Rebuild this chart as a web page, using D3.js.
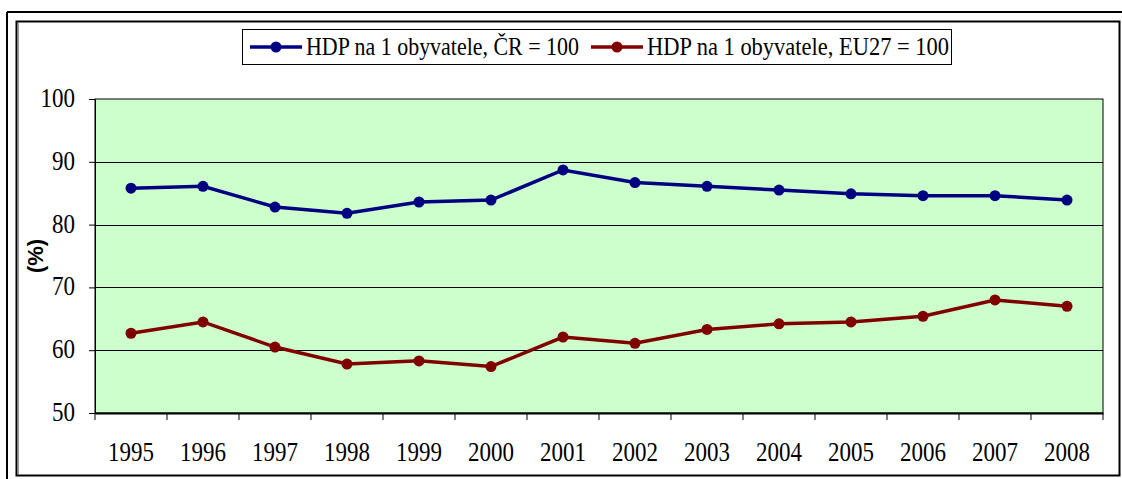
<!DOCTYPE html>
<html>
<head>
<meta charset="utf-8">
<script src="https://cdn.jsdelivr.net/npm/d3@7"></script>
<style>
html,body{margin:0;padding:0;background:#fff;}
svg{display:block;}
</style>
</head>
<body>
<script>
const years = ["1995","1996","1997","1998","1999","2000","2001","2002","2003","2004","2005","2006","2007","2008"];
const seriesCR = [85.8,86.1,82.8,81.8,83.6,83.9,88.7,86.7,86.1,85.5,84.9,84.6,84.6,83.9];
const seriesEU = [62.7,64.5,60.5,57.8,58.3,57.4,62.1,61.1,63.3,64.2,64.5,65.4,68.0,67.0];
const seriesNames = ["HDP na 1 obyvatele, ČR = 100","HDP na 1 obyvatele, EU27 = 100"];
const yTicks = [50,60,70,80,90,100];

const W = 1122, H = 479;
const svg = d3.select("body").append("svg").attr("width", W).attr("height", H);
const serif = '"Liberation Serif","Times New Roman",serif';
const sy = 1.2; // vertical stretch of text as in the original

// outer page frame lines
svg.append("line").attr("x1",7).attr("x2",W).attr("y1",12).attr("y2",12).attr("stroke","#000").attr("stroke-width",2);
svg.append("line").attr("x1",7).attr("x2",7).attr("y1",12).attr("y2",H).attr("stroke","#000").attr("stroke-width",2);
// chart border
svg.append("rect").attr("x",16.5).attr("y",21.5).attr("width",1103).attr("height",454).attr("fill","#fff").attr("stroke","#000").attr("stroke-width",2);
svg.append("line").attr("x1",18.5).attr("x2",18.5).attr("y1",23).attr("y2",474).attr("stroke","#999").attr("stroke-width",1);

const m = {l:95, r:1103, t:99, b:413};
const x = d3.scaleBand().domain(years).range([m.l, m.r]);
const y = d3.scaleLinear().domain([50,100]).range([m.b, m.t]);

// plot background
svg.append("rect").attr("x",m.l).attr("y",m.t).attr("width",m.r-m.l).attr("height",m.b-m.t)
  .attr("fill","#ccffcc").attr("stroke","#000").attr("stroke-width",1);

// gridlines
svg.append("g").selectAll("line").data(yTicks.filter(d=>d>50 && d<100)).join("line")
  .attr("x1",m.l).attr("x2",m.r).attr("y1",d=>Math.round(y(d))+0.5).attr("y2",d=>Math.round(y(d))+0.5)
  .attr("stroke","#000").attr("stroke-width",1);

// y axis
const ya = svg.append("g").attr("transform",`translate(${m.l},0)`)
  .call(d3.axisLeft(y).tickValues(yTicks).tickSize(6).tickPadding(14).tickSizeOuter(0));
ya.attr("font-family",null).attr("font-size",null);
ya.select(".domain").attr("stroke","#000");
ya.selectAll("text").style("font-family",serif).style("font-size","23px").attr("fill","#000")
  .attr("dy",null).attr("y",7.5/sy).attr("transform",`scale(1,${sy})`);

// x axis with ticks at category boundaries
const xa = svg.append("g").attr("transform",`translate(0,${m.b})`)
  .call(d3.axisBottom(x).tickSize(0).tickPadding(30).tickSizeOuter(0));
xa.attr("font-family",null).attr("font-size",null);
xa.select(".domain").attr("stroke","#000").attr("stroke-width",2);
xa.selectAll("text").style("font-family",serif).style("font-size","23px").attr("fill","#000")
  .attr("dy",null).attr("y",48/sy).attr("transform",`scale(1,${sy})`);
svg.append("g").selectAll("line").data(years.concat(["end"])).join("line")
  .attr("x1",(d,i)=>m.l + i*x.step()).attr("x2",(d,i)=>m.l + i*x.step())
  .attr("y1",m.b).attr("y2",m.b+7).attr("stroke","#000").attr("stroke-width",1);

// y label
svg.append("text").attr("transform","translate(43,256) rotate(-90)")
  .attr("text-anchor","middle").style("font-family",'"Liberation Sans",Arial,sans-serif')
  .style("font-weight","bold").style("font-size","22px").text("(%)");

const colors = ["#000080","#800000"];
const data = [seriesCR, seriesEU];
const line = d3.line().x((d,i)=>x(years[i])+x.bandwidth()/2).y(d=>y(d));
data.forEach((s,k)=>{
  svg.append("path").datum(s).attr("d",line).attr("fill","none").attr("stroke",colors[k]).attr("stroke-width",3.5);
  svg.append("g").selectAll("circle").data(s).join("circle")
    .attr("cx",(d,i)=>x(years[i])+x.bandwidth()/2).attr("cy",d=>y(d)).attr("r",5.5).attr("fill",colors[k]);
});

// legend
const lg = svg.append("g");
lg.append("rect").attr("x",242.5).attr("y",29.5).attr("width",709).attr("height",35)
  .attr("fill","#fff").attr("stroke","#000").attr("stroke-width",1);
const legX = [250, 591];
const legW = [273, 302];
seriesNames.forEach((n,k)=>{
  const g = lg.append("g").attr("transform",`translate(${legX[k]},47)`);
  g.append("line").attr("x1",0).attr("x2",52).attr("y1",0).attr("y2",0).attr("stroke",colors[k]).attr("stroke-width",3.5);
  g.append("circle").attr("cx",26).attr("cy",0).attr("r",5.5).attr("fill",colors[k]);
  g.append("text").attr("x",56).attr("y",7.5/sy).attr("transform",`scale(1,${sy})`)
    .style("font-family",serif).style("font-size","21px").attr("fill","#000")
    .attr("textLength",legW[k]).attr("lengthAdjust","spacingAndGlyphs").text(n);
});
</script>
</body>
</html>
